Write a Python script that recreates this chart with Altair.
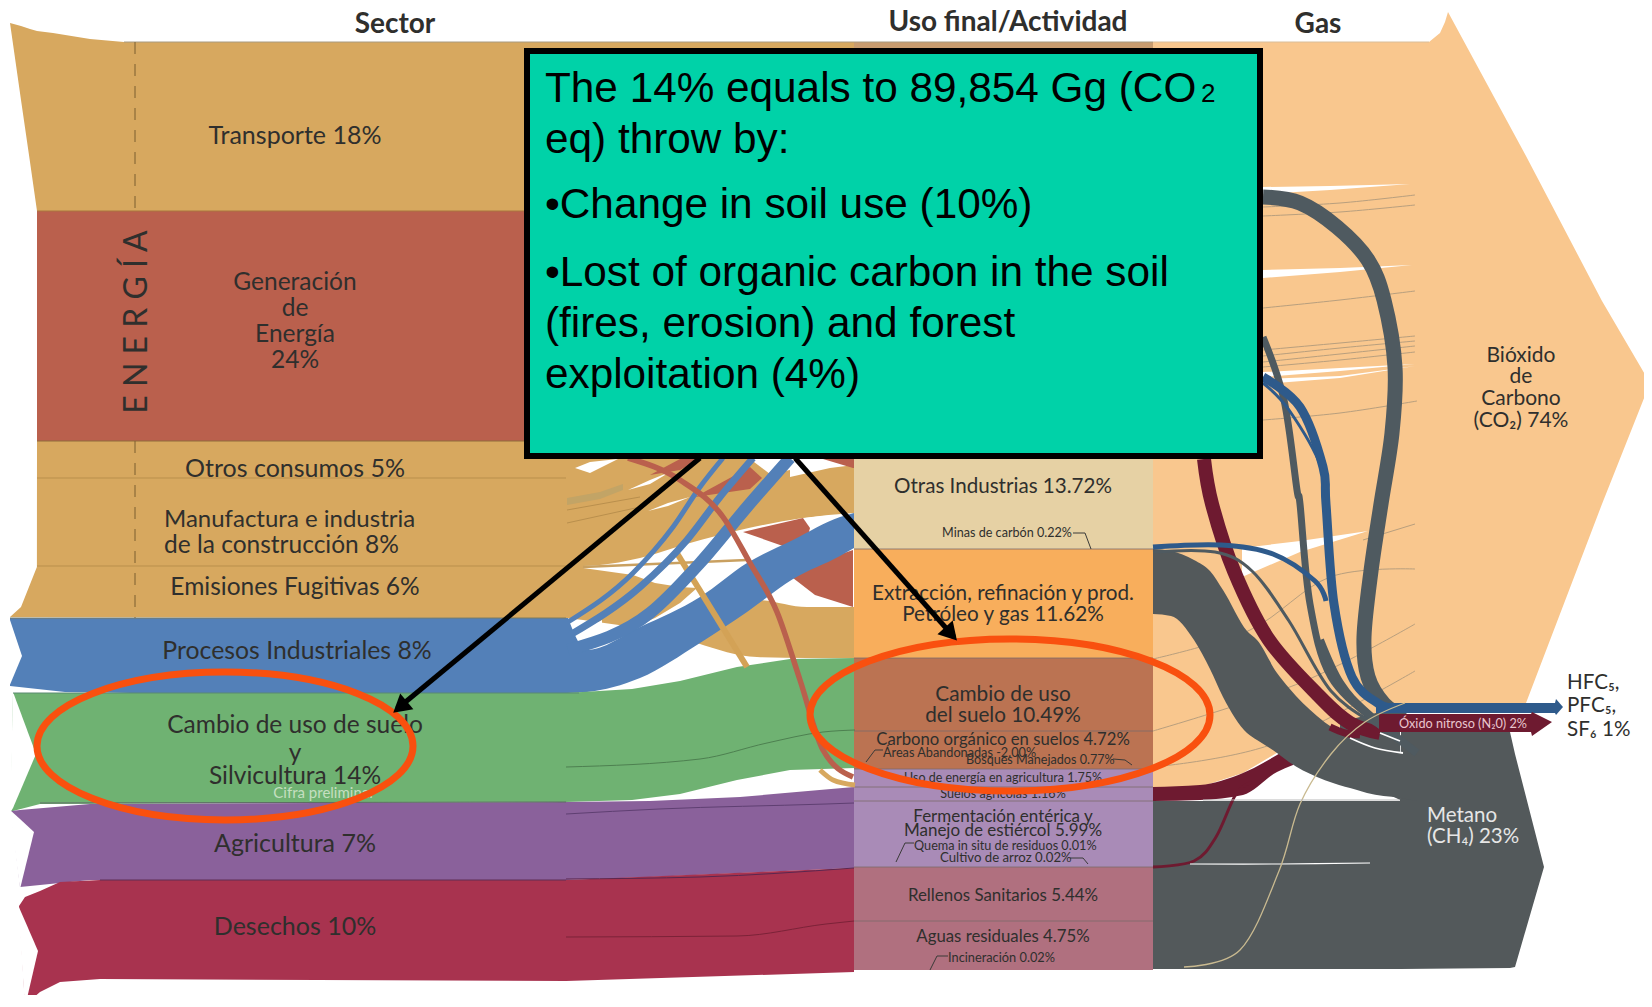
import altair as alt
import pandas as pd

W, H = 1636, 987
TAN = "#D7A85F"; RED = "#BA604D"; BLUE = "#5380B8"; GREEN = "#6FB272"; PURPLE = "#8A619B"
CRIMSON = "#A8334F"; OTRAS = "#E6D1A4"; EXTR = "#F8AE5C"; CAMBIO = "#BB7352"; LILAC = "#A98BB7"
PINK = "#B0707F"; CO2 = "#F9C78E"; GREY = "#53595B"; DRED = "#6E1A30"; DBLUE = "#2E5A8B"
WHITE = "#FFFFFF"; TEAL = "#00D2A8"; FLARE = "#F9500F"; INK = "#2F2F2D"; THIN = "#B89F7E"

# Sector bands: x, upper edge, lower edge
TRANS_X = [10, 21, 30, 37, 53, 90, 124, 854]
TRANS_T = [23, 26, 29, 31, 33, 39, 42, 42]
TRANS_B = [23, 100, 162, 211, 211, 211, 211, 211]
GEN_X = [37, 530]; GEN_T = [211, 211]; GEN_B = [441, 441]
TANLOW_X = [10, 21, 36.9, 37, 566, 583]; TANLOW_T = [617, 607, 567, 441, 441, 441]; TANLOW_B = [617, 617, 617, 617, 618, 618]
T1_X = [566, 583, 640, 690, 740, 803, 854]; T1_T = [441, 441, 441, 441, 441, 441, 441]; T1_B = [566, 566, 558, 543, 530, 518, 513]
T2_X = [566, 583, 633, 655, 680, 697]; T2_T = [566, 568, 575, 583, 587, 588]; T2_B = [618, 620, 627, 618, 603, 588]
T3_X = [697, 757, 807, 854]; T3_T = [643, 600, 607, 607]; T3_B = [643, 657, 658, 658]
HATCH_X = [567, 600, 623]; HATCH_T = [498, 492, 484]; HATCH_B = [505, 499, 490]
BLUE_X = [10, 65, 130, 568]; BLUE_T = [618, 618, 618, 618]; BLUE_B = [686, 692, 693, 693]
BLUE_NX = [9, 22]; BLUE_NT = [617, 656]; BLUE_NB = [687, 656]
B4_X = [568, 587, 640, 700, 747, 793, 840, 854]; B4_T = [618, 650, 627, 597, 563, 540, 517, 513]; B4_B = [693, 692, 678, 643, 612, 579, 556, 548]
GREEN_X = [11, 13, 40, 566, 632, 680, 737, 790, 855]
GREEN_T = [811, 693, 693, 693, 689, 681, 667, 659, 658]
GREEN_B = [811, 811, 804, 802, 800, 794, 780, 770, 768]
GREEN_NX = [10, 13, 36]; GREEN_NT = [811, 692, 754]; GREEN_NB = [813, 808, 754]
PUR_X = [11, 20, 90, 566, 650, 740, 854]; PUR_T = [811, 810, 804, 802, 801, 797, 787]
PUR_B = [811, 887, 880, 880, 877, 873, 868]
PUR_NX = [10, 20, 34]; PUR_NT = [810, 819, 832]; PUR_NB = [812, 889, 832]
CRIM_X = [19, 25, 40, 60, 100, 566, 854]; CRIM_T = [906, 897, 891, 882, 880, 880, 868]
CRIM_B = [906, 1005, 992, 982, 979, 981, 972]
CRIM_NX = [18, 25, 38]; CRIM_NT = [905, 921, 951]; CRIM_NB = [907, 1007, 951]

# Central column: x span and segment edges
COL_X0 = [854, 854, 854, 854, 854, 854]
COL_X1 = [1153, 1153, 1153, 1153, 1153, 1153]
COL_Y0 = [42, 459, 549, 658, 769, 867]
COL_Y1 = [48, 549, 658, 769, 867, 970]
COL_C = ["#C99C6F", OTRAS, EXTR, CAMBIO, LILAC, PINK]
COL_LINE_Y = [549, 658, 731, 769, 787, 801, 867, 921]

# Gas shapes
CO2_X = [1153, 1200, 1243, 1290, 1345, 1380, 1381, 1429, 1440, 1445, 1448, 1526, 1602, 1650]
CO2_T = [42, 42, 42, 42, 42, 42, 42, 42, 33, 22, 12, 156, 301, 383]
CO2_B = [787, 787, 773, 745, 725, 730, 703, 703, 703, 703, 703, 703, 504, 383]
MET_X = [1153, 1400, 1401, 1510, 1515, 1544]; MET_T = [801, 801, 732, 732, 754, 867]; MET_B = [969, 969, 969, 968, 967, 867]
BEHIND_X = [1340, 1380, 1400]; BEHIND_T = [722, 712, 714]; BEHIND_B = [760, 790, 800]
GB_X = [1153, 1171, 1194, 1210, 1223, 1247, 1257, 1277, 1289, 1317, 1333, 1357, 1367, 1400, 1417]
GB_T = [549, 551, 560, 571, 590, 631, 640, 673, 688, 716, 728, 739, 743, 752, 755]
GB_B = [614, 616, 640, 669, 697, 733, 740, 753, 762, 777, 783, 790, 793, 798, 801]
RB_X = [1153, 1200, 1243, 1277, 1293]; RB_T = [787, 785, 773, 755, 745]; RB_B = [801, 800, 795, 772, 765]
HFC_X = [1376, 1555, 1556, 1563]; HFC_T = [703, 703, 699, 707]; HFC_B = [713, 713, 715, 707]
N2O_X = [1379, 1531, 1532, 1552]; N2O_T = [714, 714, 712, 722]; N2O_B = [732, 732, 736, 722]

# Wedges left open in the flows
WEDGES = [
    ([1263, 1330, 1410], [187, 186, 184], [194, 190, 184]),
    ([1263, 1340, 1412], [270, 268, 265], [278, 272, 265]),
    ([1263, 1340, 1415], [372, 368, 364], [377, 371, 364]),
    ([1263, 1340, 1415], [379, 376, 366], [384, 378, 366]),
    ([1242, 1300, 1368], [548, 541, 531], [577, 552, 531]),
]
GAPS = [
    ([575, 590, 618], [468, 462, 459], [468, 473, 459]),
    ([628, 650, 670], [490, 480, 472], [490, 484, 472]),
    ([648, 668, 690], [511, 503, 497], [511, 506, 497]),
    ([750, 770, 790], [459, 459, 459], [459, 474, 470]),
    ([805, 822, 840], [518, 516, 515], [530, 523, 515]),
    ([790, 830, 854], [459, 459, 459], [477, 468, 465]),
    ([573, 590, 602], [633, 626, 620], [633, 629, 623]),
    ([587, 615, 643], [650, 637, 623], [650, 640, 627]),
]
REDS = [
    ([695, 750, 762], [497, 467, 478], [497, 489, 478]),
    ([743, 803, 810], [532, 518, 528], [532, 553, 528]),
    ([793, 815, 853], [578, 563, 550], [578, 595, 607]),
    ([823, 853, 854], [459, 459, 459], [459, 468, 468]),
    ([650, 680, 700], [475, 459, 459], [475, 470, 459]),
]

# Straight strips and x-ordered strands: points, colour, width
STRIPS = [
    ([583, 747], [567, 560], "#C9A060", 2.5),
    ([675, 747], [550, 667], "#D3A256", 6),
]
SMOOTH = [
    ([568, 633, 673, 700, 723], [622, 573, 527, 487, 458], BLUE, 5),
    ([570, 640, 687, 720, 753], [635, 587, 540, 497, 458], BLUE, 7),
    ([568, 650, 700, 747, 790], [650, 613, 563, 507, 458], BLUE, 12),
    ([628, 680, 723, 750, 777, 800, 823, 853], [458, 480, 517, 563, 612, 680, 750, 777], RED, 5.5),
    ([820, 833, 855], [770, 780, 785], "#D7A85F", 5),
]
# Curves that turn back on themselves
STRANDS = [
    ([1204, 1212, 1234, 1269, 1320, 1350, 1380], [459, 504, 571, 640, 697, 723, 733], DRED, 14),
    ([1330, 1345, 1360], [727, 733, 735], DRED, 7),
    ([1263, 1300, 1337, 1368, 1384, 1395, 1392, 1381, 1371, 1364, 1368, 1384, 1405], [197, 203, 227, 260, 300, 367, 433, 504, 571, 637, 677, 704, 717], "#4F5A60", 15),
    ([1263, 1284, 1297, 1300, 1310, 1331, 1379, 1405], [337, 400, 490, 504, 604, 677, 724, 744], "#4F5A60", 7),
    ([1153, 1215, 1252, 1289, 1331, 1379, 1410], [552, 552, 571, 621, 691, 727, 747], "#4F5A60", 3),
    ([1320, 1340, 1367, 1417], [640, 683, 713, 753], "#4F5A60", 8),
    ([1263, 1300, 1323, 1326, 1334, 1352, 1379, 1395], [377, 407, 467, 504, 604, 677, 704, 708], DBLUE, 9),
    ([1263, 1289, 1321, 1328], [383, 410, 467, 520], DBLUE, 3),
    ([1153, 1221, 1273, 1315, 1326], [547, 545, 554, 581, 601], DBLUE, 5),
    ([1153, 1194, 1216, 1236, 1252], [867, 861, 837, 794, 782], DRED, 3),
]
FINE = [
    ([1263, 1340, 1415], [207, 203, 195]), ([1263, 1340, 1415], [216, 212, 205]),
    ([1263, 1340, 1415], [308, 300, 291]), ([1263, 1340, 1415], [350, 343, 336]),
    ([1263, 1340, 1415], [356, 348, 341]), ([1263, 1340, 1415], [362, 354, 346]),
    ([1263, 1340, 1415], [367, 360, 352]), ([1263, 1340, 1417], [420, 413, 401]),
    ([1363, 1415], [540, 524]), ([1153, 1250, 1330, 1415], [659, 630, 577, 569]),
    ([1153, 1300, 1415], [731, 683, 624]), ([1153, 1273, 1415], [767, 744, 671]),
]
SLIVERS_X = [[1350, 1375, 1403], [1380, 1400], [1190, 1280, 1370]]
SLIVERS_Y = [[738, 748, 753], [733, 741], [864, 864, 863]]
SLIVERS_W = [1.8, 1.8, 1.2]
PALE_X = [1184, 1240, 1279, 1300, 1331, 1365, 1405]
PALE_Y = [967, 950, 871, 804, 754, 722, 703]
DARK_LINES = [
    ([566, 700, 767, 823, 855], [767, 759, 743, 732, 730], "#4D8050"),
    ([566, 659, 826, 854], [814, 809, 804, 803], "#5F3F72"),
    ([566, 700, 854], [879, 877, 868], "#5B2750"),
    ([566, 737, 826, 854], [937, 936, 924, 921], "#7C2238"),
    ([37, 566], [478, 478], "#B98F4D"),
    ([37, 566], [566, 566], "#B98F4D"),
    ([567, 640], [510, 497], "#B98F4D"),
    ([567, 640], [523, 507], "#B98F4D"),
    ([37, 530], [441, 441], "#8F6B3D"),
    ([10, 566], [618, 618], "#7B7A60"),
    ([13, 579], [693, 693], "#5A8A70"),
    ([40, 566], [803, 802], "#5F6B65"),
    ([100, 566], [880, 880], "#5F2F55"),
    ([37, 854], [211, 211], "#A9763F"),
    ([124, 1153], [42, 42], "#A89A80"),
    ([1153, 1429], [42, 42], "#D9BE9A"),
    ([1203, 1400], [800, 800], "#B9B9B9"),
]
DASH_X = [135, 135]; DASH_Y1 = [42, 211]; DASH_Y2 = [441, 618]

# Leaders of the small labels
LEADERS = [
    ([1073, 1085, 1091], [533, 533, 549]), ([883, 875, 866], [750, 750, 762]),
    ([1113, 1125, 1132], [759, 760, 765]), ([914, 905, 896], [843, 843, 862]),
    ([1070, 1083, 1088], [858, 858, 864]), ([948, 937, 930], [956, 956, 970]),
]

CENTER_T = ["Transporte 18%", "Generación", "de", "Energía", "24%", "Otros consumos 5%", "Emisiones Fugitivas 6%",
            "Procesos Industriales 8%", "Cambio de uso de suelo", "y", "Silvicultura 14%", "Agricultura 7%", "Desechos 10%",
            "Otras Industrias 13.72%", "Minas de carbón 0.22%", "Extracción, refinación y prod.", "Petróleo y gas 11.62%",
            "Cambio de uso", "del suelo 10.49%", "Carbono orgánico en suelos 4.72%", "Uso de energía en agricultura 1.75%",
            "Suelos agrícolas 1.16%", "Fermentación entérica y", "Manejo de estiércol 5.99%", "Rellenos Sanitarios 5.44%",
            "Aguas residuales 4.75%", "Bióxido", "de", "Carbono", "(CO₂) 74%"]
CENTER_X = [295, 295, 295, 295, 295, 295, 295, 297, 295, 295, 295, 295, 295,
            1003, 1007, 1003, 1003, 1003, 1003, 1003, 1003, 1003, 1003, 1003, 1003, 1003, 1521, 1521, 1521, 1521]
CENTER_Y = [136, 283, 309, 335, 361, 469, 588, 652, 726, 754, 777, 844, 927,
            487, 533, 594, 615, 695, 716, 740, 778, 794, 817, 831, 896, 937, 356, 377, 399, 421]
CENTER_S = [25, 24.5, 24.5, 24.5, 24.5, 25, 24.5, 24.8, 24.5, 24.5, 24.5, 25, 25,
            20.6, 12.6, 20.7, 20.7, 20.8, 20.7, 16.7, 12.5, 12.6, 17, 17, 16.9, 16.8, 21, 21, 21, 21]
LEFT_T = ["Manufactura e industria", "de la construcción 8%", "Áreas Abandonadas -2.00%", "Bosques Manejados 0.77%",
          "Quema in situ de residuos 0.01%", "Cultivo de arroz 0.02%", "Incineración 0.02%", "HFC₅,", "PFC₅,", "SF₆ 1%"]
LEFT_X = [164, 164, 883, 966, 914, 940, 948, 1567, 1567, 1567]
LEFT_Y = [520, 546, 753, 760, 846, 858, 958, 683, 706, 730]
LEFT_S = [24, 24.5, 12.7, 12.6, 12.7, 13.2, 12.8, 20.6, 20.6, 20.6]
HEAD_T = ["Sector", "Uso final/Actividad", "Gas"]
HEAD_X = [395, 1008, 1318]; HEAD_Y = [25, 23, 25]

BOX_X = [527]; BOX_X2 = [1260]; BOX_Y = [51]; BOX_Y2 = [456]
BOX_T = ["The 14% equals to 89,854 Gg (CO", "eq) throw by:", "•Change in soil use (10%)",
         "•Lost of organic carbon in the soil", "(fires, erosion) and forest", "exploitation (4%)"]
BOX_TX = [545, 545, 545, 545, 545, 545]
BOX_TY = [102, 153, 218, 286, 337, 388]
ARROW_X = [[700, 397], [795, 954]]
ARROW_Y = [[458, 709], [458, 637]]
HEAD_PX = [400, 951]; HEAD_PY = [707, 634]; HEAD_ANG = [230, 138]
ELL_X = [225, 1010]; ELL_Y = [746, 715]; ELL_RX = [188, 200]; ELL_RY = [74, 76]

xs = alt.Scale(domain=[8, 8 + W], range=[0, W], zero=False, nice=False)
ys = alt.Scale(domain=[8 + H, 8], range=[H, 0], zero=False, nice=False)
X = lambda f="x": alt.X(f"{f}:Q", scale=xs, axis=None)
Y = lambda f="y": alt.Y(f"{f}:Q", scale=ys, axis=None)


def band(x, t, b, color, interp="linear"):
    df = pd.DataFrame({"x": x, "y": t, "y2": b})
    return alt.Chart(df).mark_area(color=color, interpolate=interp, opacity=1).encode(
        x=X(), y=Y(), y2=alt.Y2("y2:Q"))


def path(x, y, color, width, interp="cardinal", dash=None):
    df = pd.DataFrame({"x": x, "y": y, "i": list(range(len(x)))})
    kw = {"strokeDash": dash} if dash else {}
    return alt.Chart(df).mark_line(color=color, strokeWidth=width, interpolate=interp, **kw).encode(
        x=X(), y=Y(), order=alt.Order("i:Q"))


def text(x, y, t, size, color=INK, align="center", weight="normal", font="Lato", angle=None):
    df = pd.DataFrame({"x": x, "y": y, "t": t, "s": size})
    kw = {"angle": angle} if angle is not None else {}
    return alt.Chart(df).mark_text(align=align, baseline="middle", color=color, fontWeight=weight, font=font, **kw).encode(
        x=X(), y=Y(), text="t:N", size=alt.Size("s:Q", scale=None))


layers = []
# gas side first, so that the column overlaps it
layers += [band(CO2_X, CO2_T, CO2_B, CO2), band(MET_X, MET_T, MET_B, GREY), band(BEHIND_X, BEHIND_T, BEHIND_B, GREY)]
for a, b, c in WEDGES:
    layers.append(band(a, b, c, WHITE))
for a, b in FINE:
    layers.append(path(a, b, THIN, 1))
layers.append(band(RB_X, RB_T, RB_B, DRED, "monotone"))
layers.append(band(GB_X, GB_T, GB_B, GREY, "monotone"))
# sector bands
layers += [band(TRANS_X, TRANS_T, TRANS_B, TAN)]
layers += [band(TANLOW_X, TANLOW_T, TANLOW_B, TAN), band(T1_X, T1_T, T1_B, TAN, "monotone"),
           band(T2_X, T2_T, T2_B, TAN), band(T3_X, T3_T, T3_B, TAN, "monotone"),
           band(HATCH_X, HATCH_T, HATCH_B, "#C2A466")]
layers.append(band(GEN_X, GEN_T, GEN_B, RED))
for a, b, c in GAPS:
    layers.append(band(a, b, c, WHITE))
for a, b, c in REDS:
    layers.append(band(a, b, c, RED))
layers += [band(BLUE_X, BLUE_T, BLUE_B, BLUE), band(BLUE_NX, BLUE_NT, BLUE_NB, WHITE),
           band(B4_X, B4_T, B4_B, BLUE, "monotone"),
           band(GREEN_X, GREEN_T, GREEN_B, GREEN), band(GREEN_NX, GREEN_NT, GREEN_NB, WHITE),
           band(PUR_X, PUR_T, PUR_B, PURPLE), band(PUR_NX, PUR_NT, PUR_NB, WHITE),
           band(CRIM_X, CRIM_T, CRIM_B, CRIMSON), band(CRIM_NX, CRIM_NT, CRIM_NB, WHITE)]
# central column
col = pd.DataFrame({"x": COL_X0, "x2": COL_X1, "y": COL_Y0, "y2": COL_Y1, "c": COL_C})
layers.append(alt.Chart(col).mark_rect().encode(x=X(), x2="x2:Q", y=Y(), y2="y2:Q", color=alt.Color("c:N", scale=None)))
for yv in COL_LINE_Y:
    layers.append(path([854, 1153], [yv, yv], "#7B6A6A", 0.8, "linear"))
for a, b, c, w in STRIPS:
    layers.append(path(a, b, c, w, "linear"))
for a, b, c, w in SMOOTH:
    layers.append(path(a, b, c, w, "monotone"))
for a, b, c, w in STRANDS:
    layers.append(path(a, b, c, w))
layers += [band(HFC_X, HFC_T, HFC_B, DBLUE), band(N2O_X, N2O_T, N2O_B, DRED)]
for a, b, w in zip(SLIVERS_X, SLIVERS_Y, SLIVERS_W):
    layers.append(path(a, b, WHITE, w))
layers.append(path(PALE_X, PALE_Y, "#C9BA90", 1.3))
for a, b, c in DARK_LINES:
    layers.append(path(a, b, c, 1, "monotone"))
layers.append(path(DASH_X, DASH_Y1, "#7A5F30", 1, "linear", [12, 10]))
layers.append(path(DASH_X, DASH_Y2, "#7A5F30", 1, "linear", [12, 10]))
for a, b in LEADERS:
    layers.append(path(a, b, "#3A3A38", 1, "linear"))
# texts
layers.append(text(HEAD_X, HEAD_Y, HEAD_T, [28, 28, 28], weight="bold"))
layers.append(text(CENTER_X, CENTER_Y, CENTER_T, CENTER_S))
layers.append(text(LEFT_X, LEFT_Y, LEFT_T, LEFT_S, align="left"))
layers.append(text([137], [322], ["E N E R G Í A"], [32], angle=270))
layers.append(text([324], [793], ["Cifra preliminar"], [15], color="#C5DFC0"))
layers.append(text([1463], [724], ["Óxido nitroso (N₂0) 2%"], [12.7], color="#E9C6CE"))
layers.append(text([1427, 1427], [816, 837], ["Metano", "(CH₄) 23%"], [20.5, 20.5], color="#E6E6E6", align="left"))
# annotations
ell = pd.DataFrame({"x": ELL_X, "y": ELL_Y})
for i in range(2):
    k = ELL_RY[i] / ELL_RX[i]
    shape = f"M-1,0A1,{k:.4f},0,1,0,1,0A1,{k:.4f},0,1,0,-1,0Z"
    layers.append(alt.Chart(ell.iloc[[i]]).mark_point(shape=shape, size=(2 * ELL_RX[i]) ** 2, filled=False,
                                                     color=FLARE, strokeWidth=7, opacity=1).encode(x=X(), y=Y()))
for i in range(2):
    layers.append(path(ARROW_X[i], ARROW_Y[i], "#000000", 5, "linear"))
    layers.append(alt.Chart(pd.DataFrame({"x": [HEAD_PX[i]], "y": [HEAD_PY[i]]})).mark_point(
        shape="triangle-up", size=420, filled=True, color="#000000", opacity=1, angle=HEAD_ANG[i]).encode(x=X(), y=Y()))
box = pd.DataFrame({"x": BOX_X, "x2": BOX_X2, "y": BOX_Y, "y2": BOX_Y2})
layers.append(alt.Chart(box).mark_rect(color=TEAL, stroke="#000000", strokeWidth=6).encode(x=X(), x2="x2:Q", y=Y(), y2="y2:Q"))
df = pd.DataFrame({"x": BOX_TX, "y": BOX_TY, "t": BOX_T})
layers.append(alt.Chart(df).mark_text(align="left", baseline="alphabetic", font="Liberation Sans", fontSize=42.3, color="#000000").encode(
    x=X(), y=Y(), text="t:N"))
layers.append(alt.Chart(pd.DataFrame({"x": [1201], "y": [102], "t": ["2"]})).mark_text(
    align="left", baseline="alphabetic", font="Liberation Sans", fontSize=26, color="#000000").encode(x=X(), y=Y(), text="t:N"))

chart = alt.layer(*layers).properties(width=W, height=H, padding=0, background="#FFFFFF", autosize=alt.AutoSizeParams(type="none")).configure_view(stroke=None)
chart.save("out.html", embed_options={"renderer": "svg", "actions": False})
